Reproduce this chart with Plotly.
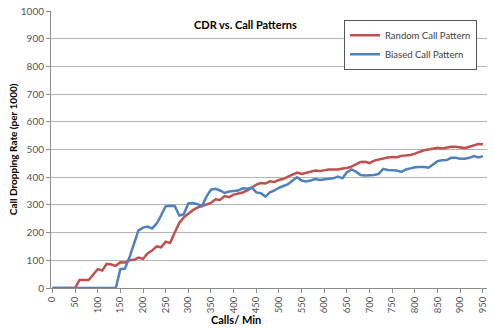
import plotly.graph_objects as go

calls = list(range(0, 960, 10))

random_pattern = [0, 0, 0, 0, 0, 0, 29, 30, 29, 48,
                  68, 63, 87, 85, 80, 93, 92, 100, 102, 110,
                  105, 125, 135, 150, 147, 167, 163, 200, 235, 255,
                  268, 281, 290, 296, 300, 307, 320, 318, 332, 328,
                  337, 341, 345, 352, 362, 373, 379, 377, 385, 383,
                  390, 394, 402, 410, 417, 412, 416, 420, 424, 422,
                  425, 428, 428, 428, 431, 433, 438, 448, 455, 456,
                  451, 460, 464, 468, 471, 473, 472, 477, 479, 480,
                  485, 492, 497, 500, 503, 506, 504, 508, 510, 510,
                  507, 505, 510, 516, 520, 519]

biased_pattern = [0, 0, 0, 0, 0, 0, 0, 0, 0, 0,
                  0, 0, 0, 0, 0, 68, 70, 110, 160, 208,
                  218, 222, 215, 232, 262, 295, 297, 296, 262, 266,
                  305, 307, 303, 296, 330, 355, 358, 352, 343, 348,
                  350, 352, 360, 358, 362, 345, 342, 330, 345, 352,
                  362, 368, 375, 388, 400, 388, 385, 388, 393, 390,
                  393, 394, 396, 402, 396, 418, 428, 420, 408, 406,
                  407, 408, 412, 430, 426, 424, 424, 419, 428, 432,
                  436, 437, 437, 434, 446, 458, 461, 462, 470, 470,
                  467, 467, 470, 476, 471, 476]

x_ticks = list(range(0, 951, 50))
y_ticks = list(range(0, 1001, 100))

FONT = "Lato"

fig = go.Figure()
fig.add_trace(go.Scatter(x=calls, y=random_pattern, mode="lines",
                         name="Random Call Pattern",
                         line=dict(color="#C0504D", width=2.5)))
fig.add_trace(go.Scatter(x=calls, y=biased_pattern, mode="lines",
                         name="Biased Call Pattern",
                         line=dict(color="#4F81BD", width=2.5)))

fig.update_layout(
    width=494, height=328,
    margin=dict(l=51, r=7, t=11, b=40, autoexpand=False),
    paper_bgcolor="white", plot_bgcolor="white",
    font=dict(family=FONT, size=10, color="#404040"),
    showlegend=True,
    legend=dict(x=0.672, y=0.968, xanchor="left", yanchor="top",
                bgcolor="white", bordercolor="#555555", borderwidth=1,
                font=dict(family=FONT, size=9.5, color="#404040"),
                tracegroupgap=0, itemwidth=30),
    xaxis=dict(range=[-3, 959], tickmode="array", tickvals=x_ticks,
               ticktext=[str(v) for v in x_ticks], tickangle=-90,
               showgrid=False, zeroline=False, showline=True,
               linecolor="#8c8c8c", linewidth=1, automargin=False,
               ticks="outside", ticklen=4, tickcolor="#8c8c8c",
               tickfont=dict(size=9.5, color="#555555")),
    yaxis=dict(range=[0, 1000], tickmode="array", tickvals=y_ticks,
               showgrid=True, gridcolor="#b4b4b4", gridwidth=1,
               zeroline=False, showline=True, automargin=False,
               linecolor="#8c8c8c", linewidth=1,
               ticks="outside", ticklen=4, tickcolor="#8c8c8c",
               tickfont=dict(size=10, color="#555555")),
    annotations=[
        dict(text="<b>CDR vs. Call Patterns</b>", xref="paper", yref="paper",
             x=0.447, y=0.95, xanchor="center", yanchor="middle", showarrow=False,
             font=dict(family=FONT, size=11, color="#000000")),
        dict(text="<b>Calls/ Min</b>", xref="paper", yref="paper",
             x=0.425, y=-0.115, xanchor="center", yanchor="middle", showarrow=False,
             font=dict(family=FONT, size=11, color="#000000")),
        dict(text="<b>Call Dropping Rate (per 1000)</b>", xref="paper", yref="paper",
             x=-0.088, y=0.50, xanchor="center", yanchor="middle", showarrow=False,
             textangle=-90,
             font=dict(family=FONT, size=10, color="#000000")),
    ],
)

fig.write_html("out.html",
               config={"displayModeBar": False},
               post_script="document.body.style.margin='0';document.body.style.overflow='hidden';")
